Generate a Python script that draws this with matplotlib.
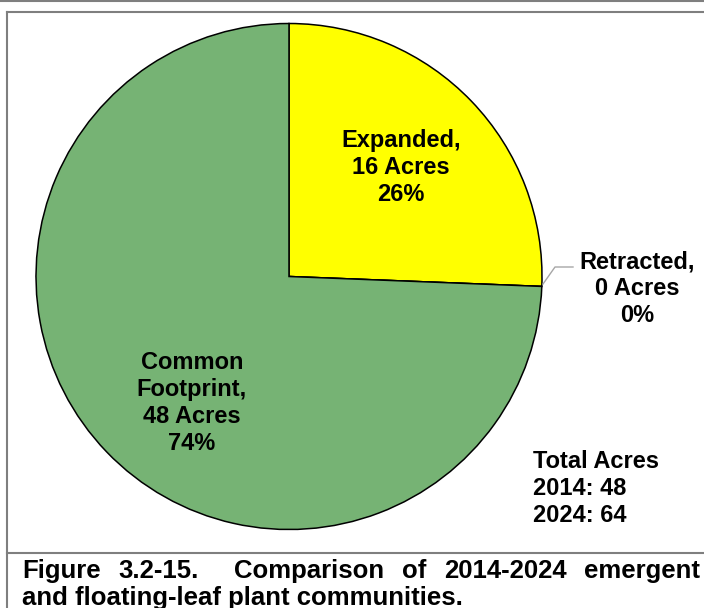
import matplotlib
matplotlib.use("Agg")
import matplotlib.pyplot as plt

# acreage by change class (order drawn clockwise from 12 o'clock)
classes = ["Expanded", "Retracted", "Common\nFootprint"]
acres = [16.4, 0.0, 47.6]
colors = ["#FFFF00", "#76B374", "#76B374"]
years = [2014, 2024]
caption = ["Figure", "3.2-15.", "Comparison", "of", "2014-2024", "emergent"]
caption2 = "and floating-leaf plant communities."

W, H = 704, 608
fig = plt.figure(figsize=(W / 100, H / 100), dpi=100)
ax = fig.add_axes([0, 0, 1, 1])


def Y(y):
    # page coordinates run top-down
    return H - y


lab = dict(family="Liberation Sans", fontweight="bold", fontsize=17, color="black")

total = sum(acres)
ax.pie(acres, colors=colors, startangle=90, counterclock=False, radius=253,
       center=(289, Y(276.5)), wedgeprops=dict(edgecolor="black", linewidth=1.1))
ax.set_xlim(0, W)
ax.set_ylim(0, H)
ax.set_aspect("equal")
ax.axis("off")


def block(lines, x, y0, ha="center", step=27):
    for i, s in enumerate(lines):
        ax.text(x, Y(y0 + i * step), s, ha=ha, va="baseline", **lab)


def slice_text(i):
    name = classes[i].split("\n")
    pct = acres[i] / total * 100
    name[-1] += ","
    return name + [f"{acres[i]:.0f} Acres", f"{pct:.0f}%"]


block(slice_text(0), 401, 147)
block(slice_text(2), 192, 369)
block(slice_text(1), 637, 268)

# leader line for the zero slice
ax.plot([543, 555, 573], [Y(284), Y(267), Y(267)], color="#A6A6A6", lw=1.0)

total_2014 = acres[1] + acres[2]
total_2024 = acres[0] + acres[2]
block(["Total Acres", f"{years[0]}: {total_2014:.0f}", f"{years[1]}: {total_2024:.0f}"],
      533, 468, ha="left")

# frame lines
gray = "#7F7F7F"
ax.plot([0, W], [Y(1), Y(1)], color=gray, lw=1.5)
ax.plot([7, W], [Y(12), Y(12)], color=gray, lw=1.5)
ax.plot([7, 7], [Y(12), 0], color=gray, lw=1.5)
ax.plot([7, W], [Y(553), Y(553)], color=gray, lw=1.5)

# justified caption, first line
cap = dict(family="Liberation Sans", fontweight="bold", fontsize=18.5, color="black")
fig.canvas.draw()
r = fig.canvas.get_renderer()
widths = []
for w in caption:
    t = ax.text(0, 0, w, **cap)
    widths.append(t.get_window_extent(r).width)
    t.remove()
gaps = [1, 2, 1, 1, 1]
x0, x1 = 22, 700
unit = (x1 - x0 - sum(widths)) / sum(gaps)
x = x0
for i, w in enumerate(caption):
    ax.text(x, Y(578), w, ha="left", va="baseline", **cap)
    x += widths[i]
    if i < len(gaps):
        x += gaps[i] * unit
ax.text(x0, Y(605), caption2, ha="left", va="baseline", **cap)

fig.savefig("out.png", dpi=100)
